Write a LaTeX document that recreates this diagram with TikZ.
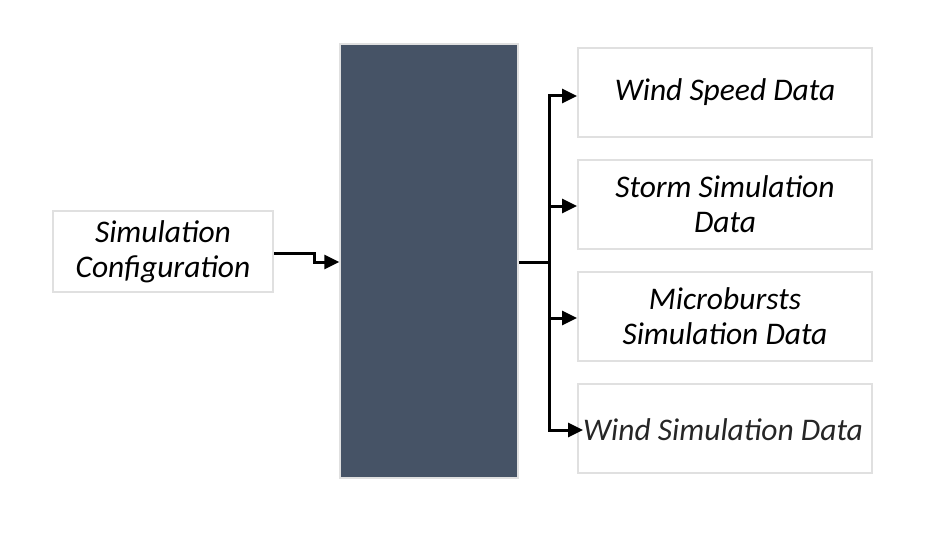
\documentclass[tikz,border=0pt]{standalone}
\usepackage{fontspec}
\setmainfont{Carlito}
\usetikzlibrary{arrows.meta}

\begin{document}
\begin{tikzpicture}[x=1pt,y=-1pt]
	\useasboundingbox (0,0) rectangle (936,540);
	\tikzset{databox/.style={shape=rectangle,draw=black!12,line width=2pt,fill=white,
		minimum width=294pt,minimum height=89pt,align=center,font=\fontsize{31.5}{35}\selectfont\itshape},
		flow/.style={-{Triangle[length=15pt,width=14pt]},line width=3pt}}
	
	\node[databox,minimum width=220pt,minimum height=81pt] (config) at (163, 251.5) {Simulation\\Configuration};
	\node[shape=rectangle,draw=black!12,line width=1.5pt,fill={rgb,255:red,70;green,83;blue,102},
		minimum width=178pt,minimum height=434pt] (engine) at (429, 261) {};
	\node[databox] (speed) at (725, 92.5) {Wind Speed Data};
	\node[databox] (storm) at (725, 204.5) {Storm Simulation\\Data};
	\node[databox] (micro) at (725, 316.5) {Microbursts\\Simulation Data};
	\node[databox] (wind) at (725, 428.5) {};
	\node[font=\fontsize{31.5}{35}\selectfont\itshape,text=black!85,anchor=west,inner sep=0pt] (windtext) at (583, 430) {Wind Simulation Data};
	
	\coordinate (trunk) at (549, 262);
	
	\draw[flow] (config.east |- 0,253) -- (314,253) -- (314,262) -- (engine.west |- 0,262);
	\draw[line width=3pt] (engine.east |- trunk) -- (trunk);
	\draw[flow] (trunk) -- (549,96) -- (speed.west |- 0,96);
	\draw[flow] (549,206) -- (storm.west |- 0,206);
	\draw[flow] (549,318) -- (micro.west |- 0,318);
	\draw[flow] (trunk) -- (549,430) -- (windtext.west);
	
\end{tikzpicture}
\end{document}
